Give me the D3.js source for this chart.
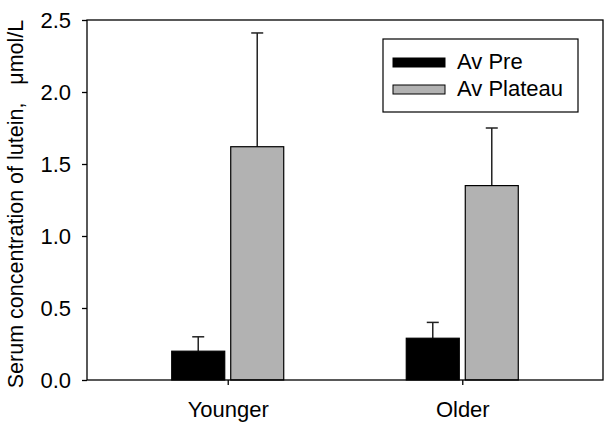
<!DOCTYPE html>
<meta charset="utf-8">
<head>
<style>
  body { margin: 0; background: #fff; }
  text { font-family: "Liberation Sans", Arial, sans-serif; fill: #000; }
  .axis path, .axis line { stroke: #000; stroke-width: 1.3; }
</style>
</head>
<body>
<script src="https://cdnjs.cloudflare.com/ajax/libs/d3/7.8.5/d3.min.js"></script>
<script>

const groups = ["Younger", "Older"];
const seriesNames = ["Av Pre", "Av Plateau"];
const avPre = [0.20, 0.29];
const avPreErr = [0.10, 0.11];
const avPlateau = [1.62, 1.35];
const avPlateauErr = [0.79, 0.40];
const yTicks = [0.0, 0.5, 1.0, 1.5, 2.0, 2.5];
const colors = ["#000000", "#b2b2b2"];

const margin = {top: 20, right: 6, bottom: 48, left: 87},
    width = 609 - margin.left - margin.right,
    height = 428 - margin.top - margin.bottom;

const svg = d3.select("body").append("svg")
    .attr("width", 609)
    .attr("height", 428)
  .append("g")
    .attr("transform", "translate(" + margin.left + "," + margin.top + ")");

const x = d3.scalePoint().domain(groups).range([0, width]).padding(0.6);
const y = d3.scaleLinear().domain([0, 2.5]).range([height, 0]);

const barW = 53, gap = 6;
const offset = d3.scaleOrdinal().domain(seriesNames)
    .range([-gap / 2 - barW, gap / 2]);

const rows = [];
groups.forEach((g, i) => {
  rows.push({group: g, series: seriesNames[0], value: avPre[i], err: avPreErr[i]});
  rows.push({group: g, series: seriesNames[1], value: avPlateau[i], err: avPlateauErr[i]});
});
const color = d3.scaleOrdinal().domain(seriesNames).range(colors);

// error bars (upper only)
const eb = svg.append("g");
eb.selectAll("line.v").data(rows).join("line")
    .attr("x1", d => x(d.group) + offset(d.series) + barW / 2)
    .attr("x2", d => x(d.group) + offset(d.series) + barW / 2)
    .attr("y1", d => y(d.value))
    .attr("y2", d => y(d.value + d.err))
    .attr("stroke", "#222").attr("stroke-width", 1.5);
eb.selectAll("line.c").data(rows).join("line")
    .attr("x1", d => x(d.group) + offset(d.series) + barW / 2 - 6)
    .attr("x2", d => x(d.group) + offset(d.series) + barW / 2 + 6)
    .attr("y1", d => y(d.value + d.err))
    .attr("y2", d => y(d.value + d.err))
    .attr("stroke", "#222").attr("stroke-width", 1.5);

svg.append("g").selectAll("rect").data(rows).join("rect")
    .attr("x", d => x(d.group) + offset(d.series))
    .attr("width", barW)
    .attr("y", d => y(d.value))
    .attr("height", d => height - y(d.value))
    .attr("fill", d => color(d.series))
    .attr("stroke", "#000").attr("stroke-width", 1.2);

// frame
svg.append("rect")
    .attr("width", width).attr("height", height)
    .attr("fill", "none").attr("stroke", "#000").attr("stroke-width", 1.3);

const yAxis = svg.append("g").attr("class", "axis")
    .call(d3.axisLeft(y).tickValues(yTicks).tickFormat(d3.format(".1f")).tickSize(5).tickSizeOuter(0).tickPadding(11));
yAxis.select(".domain").remove();
yAxis.selectAll("text").style("font-size", "22px");

const xAxis = svg.append("g").attr("class", "axis")
    .attr("transform", "translate(0," + height + ")")
    .call(d3.axisBottom(x).tickSize(5).tickSizeOuter(0).tickPadding(16));
xAxis.select(".domain").remove();
xAxis.selectAll("text").style("font-size", "22px");

svg.append("text")
    .attr("transform", "rotate(-90)")
    .attr("x", -184)
    .attr("y", -margin.left + 23)
    .attr("text-anchor", "middle")
    .style("font-size", "21.5px")
    .style("white-space", "pre")
    .text("Serum concentration of lutein,   \u03bcmol/L");

// legend
const lg = svg.append("g").attr("transform", "translate(" + (383 - margin.left) + "," + (39 - margin.top) + ")");
lg.append("rect").attr("width", 195).attr("height", 73)
    .attr("fill", "#fff").attr("stroke", "#000").attr("stroke-width", 1.2);
const li = lg.selectAll("g").data(seriesNames).join("g")
    .attr("transform", (d, i) => "translate(10," + (19 + i * 27) + ")");
li.append("rect").attr("width", 52).attr("height", 9)
    .attr("fill", d => color(d)).attr("stroke", "#000").attr("stroke-width", 1);
li.append("text").attr("x", 64).attr("y", 11)
    .style("font-size", "22px")
    .text(d => d);

</script>
</body>
